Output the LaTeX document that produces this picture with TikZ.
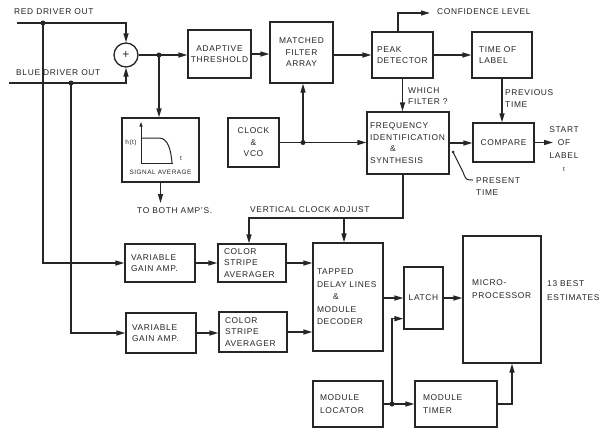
\documentclass[tikz,border=0pt]{standalone}
\usepackage{fontspec}
\setmainfont{Liberation Sans}[LetterSpace=8]
\usetikzlibrary{arrows.meta,calc}
\newcommand\lblfont{\fontsize{8.4}{11.5}\selectfont}
\newcommand\tinyfont{\fontsize{6.4}{7}\selectfont}
\tikzset{
  ln/.style={draw=black!85, line width=1.3pt},
  arr/.style={-{Triangle[length=9pt,width=5pt]}},
  bx/.style={draw=black!85, line width=1.3pt, inner sep=0pt, text=black!85, font=\lblfont},
  lab/.style={inner sep=0pt, text=black!85, font=\lblfont, align=left},
  dotc/.style={fill=black!85}
}
\begin{document}
\begin{tikzpicture}[x=1pt,y=-1pt]
\useasboundingbox[fill=white] (0,0) rectangle (609,431);
% blocks
\node[bx, circle, minimum size=24pt] (sum) at (126,55) {\fontsize{12}{12}\selectfont +};
\node[bx, minimum width=63pt, minimum height=48pt, align=center] (at) at (219.5,54) {ADAPTIVE\\THRESHOLD};
\node[bx, minimum width=63pt, minimum height=61pt, align=center] (mfa) at (301.5,52.5) {MATCHED\\FILTER\\ARRAY};
\node[bx, minimum width=61pt, minimum height=46pt, text width=51pt, align=left] (pd) at (402.5,55) {PEAK\\DETECTOR};
\node[bx, minimum width=60pt, minimum height=46pt, text width=46pt, align=left] (tol) at (502,55) {TIME OF\\LABEL};
\node[bx, minimum width=82pt, minimum height=62pt, text width=76pt, align=left] (fis) at (408,143) {FREQUENCY\\IDENTIFICATION\\\hspace*{20pt}\&\\SYNTHESIS};
\node[bx, minimum width=61pt, minimum height=39pt] (cmp) at (503.5,142.5) {COMPARE};
\node[bx, minimum width=51pt, minimum height=49pt, align=center] (clk) at (253.5,142.5) {CLOCK\\\&\\VCO};
\node[bx, minimum width=77pt, minimum height=64pt] (sig) at (160.5,150) {};
\node[bx, minimum width=70pt, minimum height=38pt, text width=58pt, align=left] (vga1) at (160,263) {VARIABLE\\GAIN AMP.};
\node[bx, minimum width=68pt, minimum height=38pt, text width=56pt, align=left] (csa1) at (252,263) {COLOR\\STRIPE\\AVERAGER};
\node[bx, minimum width=70pt, minimum height=40pt, text width=58pt, align=left] (vga2) at (161,333) {VARIABLE\\GAIN AMP.};
\node[bx, minimum width=68pt, minimum height=40pt, text width=56pt, align=left] (csa2) at (253,332) {COLOR\\STRIPE\\AVERAGER};
\node[bx, minimum width=70pt, minimum height=108pt, text width=62pt, align=left, font=\fontsize{8.4}{12.5}\selectfont] (tdl) at (348,297) {TAPPED\\DELAY LINES\\\hspace*{16pt}\&\\MODULE\\DECODER};
\node[bx, minimum width=39pt, minimum height=62pt] (latch) at (423.5,298) {LATCH};
\node[bx, minimum width=78pt, minimum height=127pt] (mp) at (502,299.5) {};
\node[lab, anchor=west, font=\fontsize{8.4}{13}\selectfont] (mptxt) at (472,289) {MICRO-\\PROCESSOR};
\node[bx, minimum width=70pt, minimum height=46pt, text width=56pt, align=left, font=\fontsize{8.4}{13}\selectfont] (mloc) at (348,404) {MODULE\\LOCATOR};
\node[bx, minimum width=82pt, minimum height=46pt, text width=66pt, align=left, font=\fontsize{8.4}{13}\selectfont] (mtim) at (456,404) {MODULE\\TIMER};
% labels
\node[lab, anchor=west] (redtxt) at (14,12) {RED DRIVER OUT};
\node[lab, anchor=west] (bluetxt) at (16,73) {BLUE DRIVER OUT};
\node[lab, anchor=west] (conftxt) at (437,12) {CONFIDENCE LEVEL};
\node[lab, anchor=west] (wf) at (408,96) {WHICH\\FILTER ?};
\node[lab, anchor=west] (prevt) at (505,98.5) {PREVIOUS\\TIME};
\node[lab, align=center, font=\fontsize{8.4}{13}\selectfont] (sol) at (564,149) {START\\OF\\LABEL\\{\tinyfont t}};
\node[lab, anchor=west] (prt) at (476,186.5) {PRESENT\\TIME};
\node[lab, anchor=west] (tba) at (137,211) {TO BOTH AMP'S.};
\node[lab, anchor=west] (vcatxt) at (250,210) {VERTICAL CLOCK ADJUST};
\node[lab, anchor=west, font=\fontsize{8.4}{14}\selectfont] (est) at (547,291) {13 BEST\\ESTIMATES};
% signal average graph
\draw[ln, line width=1pt, -{Triangle[length=4.5pt,width=3pt]}] (141,163) -- (141,122);
\draw[ln, line width=1pt] (141,163) -- (173,163);
\draw[ln, line width=1pt] (141,138) -- (159,138) .. controls (168,138) and (171,150) .. (172,163);
\node[lab, font=\tinyfont] (ht) at (131,143) {h(t)};
\node[lab, font=\tinyfont] (tt) at (181,158) {t};
\node[lab, font=\tinyfont] (satxt) at (160.5,172) {SIGNAL AVERAGE};
% coordinates
\coordinate (redin) at (17,23);
\coordinate (rdot) at (43,23);
\coordinate (bluein) at (9,83);
\coordinate (bdot) at (71,83);
\coordinate (sdot) at (159,55);
\coordinate (cdot) at (303,142.5);
\coordinate (conf) at (430,13);
\coordinate (solend) at (553,142.5);
\coordinate (ptdot) at (453,152);
\coordinate (ptend) at (473,180);
\coordinate (sigend) at (160.5,203);
\coordinate (vcl) at (249,218);
\coordinate (vcm) at (344,218);
\coordinate (ldot) at (392,404);
% connectors
\draw[ln, arr] (redin) -| (sum.north);
\draw[ln, arr] (bluein) -| (sum.south);
\draw[ln, arr] (rdot) |- (vga1.west);
\draw[ln, arr] (bdot) |- (vga2.west);
\draw[ln, arr] (sum.east) -- (sum.east -| at.west);
\draw[ln, arr] (sdot) -- (sdot |- sig.north);
\draw[ln, arr] (at.east) -- (at.east -| mfa.west);
\draw[ln, arr] (mfa.east |- pd.west) -- (pd.west);
\draw[ln, arr] (pd.east) -- (tol.west);
\draw[ln, arr] ([xshift=-4.5pt]pd.north) |- (conf);
\draw[ln, arr] (pd.south) -- (pd.south |- fis.north);
\draw[ln, arr] (tol.south) -- (tol.south |- cmp.north);
\draw[ln, arr] (fis.east) -- (fis.east -| cmp.west);
\draw[ln, arr] (cmp.east) -- (solend);
\draw[ln, line width=1pt] (ptdot) -- (463,172) .. controls (466,180) .. (ptend);
\draw[ln, arr] (clk.east) -- (clk.east -| fis.west);
\draw[ln, arr] (cdot) -- (cdot |- mfa.south);
\draw[ln, arr] (sig.south) -- (sigend);
\draw[ln, arr] ([xshift=-5pt]fis.south) |- (vcl) -- (vcl |- csa1.north);
\draw[ln, arr] (vcm) -- (vcm |- tdl.north);
\draw[ln, arr] (vga1.east) -- (csa1.west);
\draw[ln, arr] (vga2.east) -- (vga2.east -| csa2.west);
\draw[ln, arr] (csa1.east) -- (csa1.east -| tdl.west);
\draw[ln, arr] (csa2.east) -- (csa2.east -| tdl.west);
\draw[ln, arr] (latch.west -| tdl.east) -- (latch.west);
\draw[ln, arr] (latch.east) -- (latch.east -| mp.west);
\draw[ln, arr] (mloc.east) -- (mtim.west);
\draw[ln, arr] (ldot) |- ([yshift=11pt]latch.south west);
\draw[ln, arr] (mtim.east) -| ([xshift=10pt]mp.south);
% dots
\fill[dotc] (rdot) circle[radius=2.5pt];
\fill[dotc] (bdot) circle[radius=2.5pt];
\fill[dotc] (sdot) circle[radius=2.5pt];
\fill[dotc] (cdot) circle[radius=2.5pt];
\fill[dotc] (ldot) circle[radius=2.5pt];
\fill[dotc] (ptdot) circle[radius=1.5pt];
\end{tikzpicture}
\end{document}
